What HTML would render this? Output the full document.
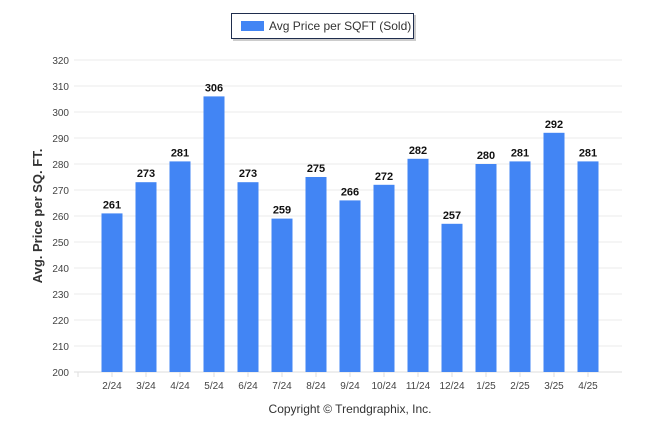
<!DOCTYPE html>
<html><head><meta charset="utf-8"><style>
body{margin:0;background:#fff;font-family:"Liberation Sans",sans-serif}
</style></head><body>
<svg width="646" height="434" xmlns="http://www.w3.org/2000/svg">
<g id="grid"></g>
<g id="bars"></g>
<g id="xl"></g>
<text transform="translate(42,216) rotate(-90)" text-anchor="middle" font-size="13" font-weight="bold" fill="#333">Avg. Price per SQ. FT.</text>
<text x="350" y="413" text-anchor="middle" font-size="12" fill="#333">Copyright © Trendgraphix, Inc.</text>
<g>
<rect x="233" y="15" width="183" height="26" fill="#aaa" opacity="0.6"/>
<rect x="231.5" y="13.5" width="182" height="25" fill="#fff" stroke="#1f2d4d"/>
<rect x="241" y="21" width="23" height="10" fill="#4285F4"/>
<text x="269" y="30" font-size="12" fill="#333">Avg Price per SQFT (Sold)</text>
</g>
</svg>
<script>
const categories=["2/24","3/24","4/24","5/24","6/24","7/24","8/24","9/24","10/24","11/24","12/24","1/25","2/25","3/25","4/25"];
const values=[261,273,281,306,273,259,275,266,272,282,257,280,281,292,281];
const yTicks=[200,210,220,230,240,250,260,270,280,290,300,310,320];
const ns="http://www.w3.org/2000/svg";
const y=v=>372-(v-200)*2.6;
const x=i=>112+34*i;
function mk(t,a,p,txt){const e=document.createElementNS(ns,t);for(const k in a)e.setAttribute(k,a[k]);if(txt!==undefined)e.textContent=txt;p.appendChild(e);return e;}
const g=document.getElementById('grid'),b=document.getElementById('bars'),xl=document.getElementById('xl');
yTicks.forEach(t=>{
 const l=mk('line',{x1:74,x2:622,y1:y(t),y2:y(t),stroke:t===200?'#ddd':'#ebebeb'},g);
 
 
 const tx=mk('text',{x:69,y:y(t)+4,'text-anchor':'end','font-size':'10',fill:'#444'},g,t);
 
 
});
for(let i=-1;i<categories.length;i++){mk('line',{x1:x(i),x2:x(i),y1:372,y2:377,stroke:'#ddd'},xl);}
categories.forEach((c,i)=>{
 const r=mk('rect',{x:x(i)-10.5,y:y(values[i]),width:21,height:372-y(values[i]),fill:'#4285F4'},b);
 
 
 const v=mk('text',{x:x(i),y:y(values[i])-5,'text-anchor':'middle','font-size':'11','font-weight':'bold',fill:'#111'},b,values[i]);
 
 
 const t=mk('text',{x:x(i),y:389,'text-anchor':'middle','font-size':'10',fill:'#444'},xl,c);
 
 
});
</script>
</body></html>
